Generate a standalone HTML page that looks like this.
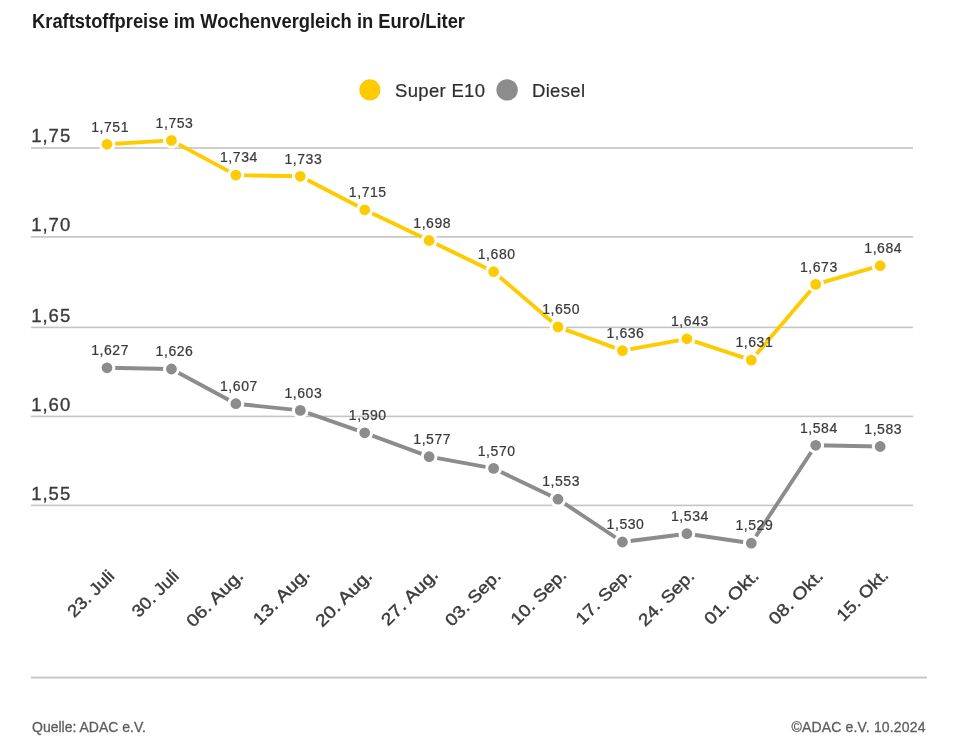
<!DOCTYPE html>
<html><head><meta charset="utf-8"><style>
html,body{margin:0;padding:0;background:#fff;}
body{width:964px;height:748px;position:relative;overflow:hidden;font-family:"Liberation Sans",sans-serif;}
svg{position:absolute;left:0;top:0;will-change:transform;}
svg text{font-family:"Liberation Sans",sans-serif;}
.t{stroke:#3A3A3A;stroke-width:0.22;}
.t2{stroke:#2E2E2E;stroke-width:0.2;}
.td{stroke:#3A3A3A;stroke-width:0.4;}
.ta{stroke:#3A3A3A;stroke-width:0.32;}
.t3{stroke:#5E5E5E;stroke-width:0.3;}
</style></head><body>
<svg width="964" height="748" viewBox="0 0 964 748">
<text x="32" y="27.6" font-size="20" textLength="433" lengthAdjust="spacingAndGlyphs" font-weight="bold" fill="#1C1C1C">Kraftstoffpreise im Wochenvergleich in Euro/Liter</text>
<circle cx="369.9" cy="89.9" r="10.6" fill="#FECB00"/>
<text x="395" y="96.8" font-size="18.5" textLength="90" lengthAdjust="spacing" class="t2" fill="#2E2E2E">Super E10</text>
<circle cx="507.1" cy="89.9" r="10.7" fill="#8C8C8C"/>
<text x="532" y="96.8" font-size="18.5" textLength="53" lengthAdjust="spacing" class="t2" fill="#2E2E2E">Diesel</text>
<rect x="31" y="147.20" width="882" height="1.6" fill="#C4C4C4"/>
<text x="31.2" y="142.10" font-size="18.5" textLength="39" lengthAdjust="spacing" class="ta" fill="#3A3A3A">1,75</text>
<rect x="31" y="236.10" width="882" height="1.6" fill="#C4C4C4"/>
<text x="31.2" y="231.00" font-size="18.5" textLength="39" lengthAdjust="spacing" class="ta" fill="#3A3A3A">1,70</text>
<rect x="31" y="326.60" width="882" height="1.6" fill="#C4C4C4"/>
<text x="31.2" y="321.50" font-size="18.5" textLength="39" lengthAdjust="spacing" class="ta" fill="#3A3A3A">1,65</text>
<rect x="31" y="415.60" width="882" height="1.6" fill="#C4C4C4"/>
<text x="31.2" y="410.50" font-size="18.5" textLength="39" lengthAdjust="spacing" class="ta" fill="#3A3A3A">1,60</text>
<rect x="31" y="504.60" width="882" height="1.6" fill="#C4C4C4"/>
<text x="31.2" y="499.50" font-size="18.5" textLength="39" lengthAdjust="spacing" class="ta" fill="#3A3A3A">1,55</text>
<polyline points="107.00,144.30 171.43,140.40 235.86,175.10 300.29,176.30 364.72,209.80 429.15,240.50 493.58,271.70 558.01,326.90 622.44,350.60 686.87,338.80 751.30,360.10 815.73,284.40 880.16,265.70" fill="none" stroke="#FECB00" stroke-width="3.9" stroke-linejoin="round"/>
<circle cx="107.00" cy="144.30" r="6.9" fill="#FECB00" stroke="#fff" stroke-width="3"/>
<circle cx="171.43" cy="140.40" r="6.9" fill="#FECB00" stroke="#fff" stroke-width="3"/>
<circle cx="235.86" cy="175.10" r="6.9" fill="#FECB00" stroke="#fff" stroke-width="3"/>
<circle cx="300.29" cy="176.30" r="6.9" fill="#FECB00" stroke="#fff" stroke-width="3"/>
<circle cx="364.72" cy="209.80" r="6.9" fill="#FECB00" stroke="#fff" stroke-width="3"/>
<circle cx="429.15" cy="240.50" r="6.9" fill="#FECB00" stroke="#fff" stroke-width="3"/>
<circle cx="493.58" cy="271.70" r="6.9" fill="#FECB00" stroke="#fff" stroke-width="3"/>
<circle cx="558.01" cy="326.90" r="6.9" fill="#FECB00" stroke="#fff" stroke-width="3"/>
<circle cx="622.44" cy="350.60" r="6.9" fill="#FECB00" stroke="#fff" stroke-width="3"/>
<circle cx="686.87" cy="338.80" r="6.9" fill="#FECB00" stroke="#fff" stroke-width="3"/>
<circle cx="751.30" cy="360.10" r="6.9" fill="#FECB00" stroke="#fff" stroke-width="3"/>
<circle cx="815.73" cy="284.40" r="6.9" fill="#FECB00" stroke="#fff" stroke-width="3"/>
<circle cx="880.16" cy="265.70" r="6.9" fill="#FECB00" stroke="#fff" stroke-width="3"/>
<text x="109.80" y="131.50" font-size="14" textLength="37.3" lengthAdjust="spacing" class="t" fill="#3A3A3A" text-anchor="middle">1,751</text>
<text x="174.23" y="127.60" font-size="14" textLength="37.3" lengthAdjust="spacing" class="t" fill="#3A3A3A" text-anchor="middle">1,753</text>
<text x="238.66" y="162.30" font-size="14" textLength="37.3" lengthAdjust="spacing" class="t" fill="#3A3A3A" text-anchor="middle">1,734</text>
<text x="303.09" y="163.50" font-size="14" textLength="37.3" lengthAdjust="spacing" class="t" fill="#3A3A3A" text-anchor="middle">1,733</text>
<text x="367.52" y="197.00" font-size="14" textLength="37.3" lengthAdjust="spacing" class="t" fill="#3A3A3A" text-anchor="middle">1,715</text>
<text x="431.95" y="227.70" font-size="14" textLength="37.3" lengthAdjust="spacing" class="t" fill="#3A3A3A" text-anchor="middle">1,698</text>
<text x="496.38" y="258.90" font-size="14" textLength="37.3" lengthAdjust="spacing" class="t" fill="#3A3A3A" text-anchor="middle">1,680</text>
<text x="560.81" y="314.10" font-size="14" textLength="37.3" lengthAdjust="spacing" class="t" fill="#3A3A3A" text-anchor="middle">1,650</text>
<text x="625.24" y="337.80" font-size="14" textLength="37.3" lengthAdjust="spacing" class="t" fill="#3A3A3A" text-anchor="middle">1,636</text>
<text x="689.67" y="326.00" font-size="14" textLength="37.3" lengthAdjust="spacing" class="t" fill="#3A3A3A" text-anchor="middle">1,643</text>
<text x="754.10" y="347.30" font-size="14" textLength="37.3" lengthAdjust="spacing" class="t" fill="#3A3A3A" text-anchor="middle">1,631</text>
<text x="818.53" y="271.60" font-size="14" textLength="37.3" lengthAdjust="spacing" class="t" fill="#3A3A3A" text-anchor="middle">1,673</text>
<text x="882.96" y="252.90" font-size="14" textLength="37.3" lengthAdjust="spacing" class="t" fill="#3A3A3A" text-anchor="middle">1,684</text>
<polyline points="107.00,367.80 171.43,369.00 235.86,403.70 300.29,410.40 364.72,432.80 429.15,456.70 493.58,468.40 558.01,499.20 622.44,542.00 686.87,533.70 751.30,543.20 815.73,445.30 880.16,446.50" fill="none" stroke="#8C8C8C" stroke-width="3.9" stroke-linejoin="round"/>
<circle cx="107.00" cy="367.80" r="6.9" fill="#8C8C8C" stroke="#fff" stroke-width="3"/>
<circle cx="171.43" cy="369.00" r="6.9" fill="#8C8C8C" stroke="#fff" stroke-width="3"/>
<circle cx="235.86" cy="403.70" r="6.9" fill="#8C8C8C" stroke="#fff" stroke-width="3"/>
<circle cx="300.29" cy="410.40" r="6.9" fill="#8C8C8C" stroke="#fff" stroke-width="3"/>
<circle cx="364.72" cy="432.80" r="6.9" fill="#8C8C8C" stroke="#fff" stroke-width="3"/>
<circle cx="429.15" cy="456.70" r="6.9" fill="#8C8C8C" stroke="#fff" stroke-width="3"/>
<circle cx="493.58" cy="468.40" r="6.9" fill="#8C8C8C" stroke="#fff" stroke-width="3"/>
<circle cx="558.01" cy="499.20" r="6.9" fill="#8C8C8C" stroke="#fff" stroke-width="3"/>
<circle cx="622.44" cy="542.00" r="6.9" fill="#8C8C8C" stroke="#fff" stroke-width="3"/>
<circle cx="686.87" cy="533.70" r="6.9" fill="#8C8C8C" stroke="#fff" stroke-width="3"/>
<circle cx="751.30" cy="543.20" r="6.9" fill="#8C8C8C" stroke="#fff" stroke-width="3"/>
<circle cx="815.73" cy="445.30" r="6.9" fill="#8C8C8C" stroke="#fff" stroke-width="3"/>
<circle cx="880.16" cy="446.50" r="6.9" fill="#8C8C8C" stroke="#fff" stroke-width="3"/>
<text x="109.80" y="355.00" font-size="14" textLength="37.3" lengthAdjust="spacing" class="t" fill="#3A3A3A" text-anchor="middle">1,627</text>
<text x="174.23" y="356.20" font-size="14" textLength="37.3" lengthAdjust="spacing" class="t" fill="#3A3A3A" text-anchor="middle">1,626</text>
<text x="238.66" y="390.90" font-size="14" textLength="37.3" lengthAdjust="spacing" class="t" fill="#3A3A3A" text-anchor="middle">1,607</text>
<text x="303.09" y="397.60" font-size="14" textLength="37.3" lengthAdjust="spacing" class="t" fill="#3A3A3A" text-anchor="middle">1,603</text>
<text x="367.52" y="420.00" font-size="14" textLength="37.3" lengthAdjust="spacing" class="t" fill="#3A3A3A" text-anchor="middle">1,590</text>
<text x="431.95" y="443.90" font-size="14" textLength="37.3" lengthAdjust="spacing" class="t" fill="#3A3A3A" text-anchor="middle">1,577</text>
<text x="496.38" y="455.60" font-size="14" textLength="37.3" lengthAdjust="spacing" class="t" fill="#3A3A3A" text-anchor="middle">1,570</text>
<text x="560.81" y="486.40" font-size="14" textLength="37.3" lengthAdjust="spacing" class="t" fill="#3A3A3A" text-anchor="middle">1,553</text>
<text x="625.24" y="529.20" font-size="14" textLength="37.3" lengthAdjust="spacing" class="t" fill="#3A3A3A" text-anchor="middle">1,530</text>
<text x="689.67" y="520.90" font-size="14" textLength="37.3" lengthAdjust="spacing" class="t" fill="#3A3A3A" text-anchor="middle">1,534</text>
<text x="754.10" y="530.40" font-size="14" textLength="37.3" lengthAdjust="spacing" class="t" fill="#3A3A3A" text-anchor="middle">1,529</text>
<text x="818.53" y="432.50" font-size="14" textLength="37.3" lengthAdjust="spacing" class="t" fill="#3A3A3A" text-anchor="middle">1,584</text>
<text x="882.96" y="433.70" font-size="14" textLength="37.3" lengthAdjust="spacing" class="t" fill="#3A3A3A" text-anchor="middle">1,583</text>
<text transform="translate(115.50,577.00) rotate(-45)" font-size="17" textLength="58.31" lengthAdjust="spacingAndGlyphs" class="td" fill="#3A3A3A" text-anchor="end">23. Juli</text>
<text transform="translate(179.93,577.00) rotate(-45)" font-size="17" textLength="58.31" lengthAdjust="spacingAndGlyphs" class="td" fill="#3A3A3A" text-anchor="end">30. Juli</text>
<text transform="translate(244.36,577.00) rotate(-45)" font-size="17" textLength="72.22" lengthAdjust="spacingAndGlyphs" class="td" fill="#3A3A3A" text-anchor="end">06. Aug.</text>
<text transform="translate(310.91,574.88) rotate(-45)" font-size="17" textLength="72.22" lengthAdjust="spacingAndGlyphs" class="td" fill="#3A3A3A" text-anchor="end">13. Aug.</text>
<text transform="translate(373.22,577.00) rotate(-45)" font-size="17" textLength="72.22" lengthAdjust="spacingAndGlyphs" class="td" fill="#3A3A3A" text-anchor="end">20. Aug.</text>
<text transform="translate(439.06,575.59) rotate(-45)" font-size="17" textLength="72.22" lengthAdjust="spacingAndGlyphs" class="td" fill="#3A3A3A" text-anchor="end">27. Aug.</text>
<text transform="translate(502.08,577.00) rotate(-45)" font-size="17" textLength="70.94" lengthAdjust="spacingAndGlyphs" class="td" fill="#3A3A3A" text-anchor="end">03. Sep.</text>
<text transform="translate(567.57,575.94) rotate(-45)" font-size="17" textLength="70.94" lengthAdjust="spacingAndGlyphs" class="td" fill="#3A3A3A" text-anchor="end">10. Sep.</text>
<text transform="translate(632.71,575.23) rotate(-45)" font-size="17" textLength="70.94" lengthAdjust="spacingAndGlyphs" class="td" fill="#3A3A3A" text-anchor="end">17. Sep.</text>
<text transform="translate(695.37,577.00) rotate(-45)" font-size="17" textLength="70.94" lengthAdjust="spacingAndGlyphs" class="td" fill="#3A3A3A" text-anchor="end">24. Sep.</text>
<text transform="translate(759.80,577.00) rotate(-45)" font-size="17" textLength="68.92" lengthAdjust="spacingAndGlyphs" class="td" fill="#3A3A3A" text-anchor="end">01. Okt.</text>
<text transform="translate(824.23,577.00) rotate(-45)" font-size="17" textLength="68.92" lengthAdjust="spacingAndGlyphs" class="td" fill="#3A3A3A" text-anchor="end">08. Okt.</text>
<text transform="translate(889.37,576.29) rotate(-45)" font-size="17" textLength="65.00" lengthAdjust="spacingAndGlyphs" class="td" fill="#3A3A3A" text-anchor="end">15. Okt.</text>
<rect x="31" y="676.6" width="896" height="2" fill="#C8C8C8"/>
<text x="32" y="732.3" font-size="14" fill="#5E5E5E" class="t3">Quelle: ADAC e.V.</text>
<text x="925.5" y="732.3" font-size="14" textLength="134" lengthAdjust="spacing" fill="#5E5E5E" class="t3" text-anchor="end">©ADAC e.V. 10.2024</text>
</svg>
</body></html>
